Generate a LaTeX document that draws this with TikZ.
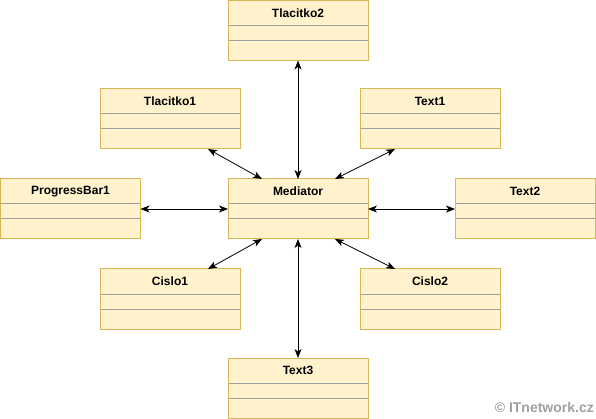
\documentclass[tikz,border=0pt]{standalone}
\usepackage{fontspec}
\setmainfont{Liberation Sans}
\usetikzlibrary{arrows.meta}

\definecolor{classfill}{HTML}{FFF2CC}
\definecolor{classline}{HTML}{D6B656}
\definecolor{sepgray}{HTML}{A0A0A0}

\begin{document}
\begin{tikzpicture}[x=1pt, y=-1pt,
    umlclass/.style={draw=classline, fill=classfill, line width=1pt,
        minimum width=140pt, minimum height=60pt, inner sep=0pt, outer sep=0pt,
        label={[anchor=center, yshift=-12.5pt, font=\fontsize{12}{14}\selectfont\bfseries]north:#1}},
    link/.style={{Stealth[length=9pt,width=7pt,inset=2.5pt]}-{Stealth[length=9pt,width=7pt,inset=2.5pt]},
        line width=0.8pt},
    sep/.style={draw=sepgray, line width=1pt}]
    \useasboundingbox (0,0) rectangle (596,419);

    \node[umlclass=Tlacitko2] (Tlacitko2) at (298,30.5) {};
    \node[umlclass=Tlacitko1] (Tlacitko1) at (170,119) {};
    \node[umlclass=Text1] (Text1) at (430,119) {};
    \node[umlclass=ProgressBar1] (ProgressBar1) at (70.5,209) {};
    \node[umlclass=Mediator] (Mediator) at (298,209) {};
    \node[umlclass=Text2] (Text2) at (525,209) {};
    \node[umlclass=Cislo1] (Cislo1) at (170,299) {};
    \node[umlclass=Cislo2] (Cislo2) at (430,299) {};
    \node[umlclass=Text3] (Text3) at (298,388) {};

    % compartment lines
    \foreach \n in {Tlacitko2,Tlacitko1,Text1,ProgressBar1,Mediator,Text2,Cislo1,Cislo2,Text3} {
        \draw[sep] ([xshift=0.5pt,yshift=-25pt]\n.north west) -- ([xshift=-0.5pt,yshift=-25pt]\n.north east);
        \draw[sep] ([xshift=0.5pt,yshift=-40pt]\n.north west) -- ([xshift=-0.5pt,yshift=-40pt]\n.north east);
    }

    \draw[link] (Mediator.north) -- (Tlacitko2.south);
    \draw[link] (Mediator.south) -- (Text3.north);
    \draw[link] (Mediator.west) -- (ProgressBar1.east);
    \draw[link] (Mediator.east) -- (Text2.west);
    \draw[link] ([xshift=-36pt]Mediator.north) -- ([xshift=38pt]Tlacitko1.south);
    \draw[link] ([xshift=37pt]Mediator.north) -- ([xshift=-35pt]Text1.south);
    \draw[link] ([xshift=-36pt]Mediator.south) -- ([xshift=38pt]Cislo1.north);
    \draw[link] ([xshift=37pt]Mediator.south) -- ([xshift=-35pt]Cislo2.north);

    \node[anchor=south east, inner sep=0pt, text=sepgray,
        font=\fontsize{14}{16}\selectfont\bfseries] (watermark) at (594,413) {© ITnetwork.cz};
\end{tikzpicture}
\end{document}
